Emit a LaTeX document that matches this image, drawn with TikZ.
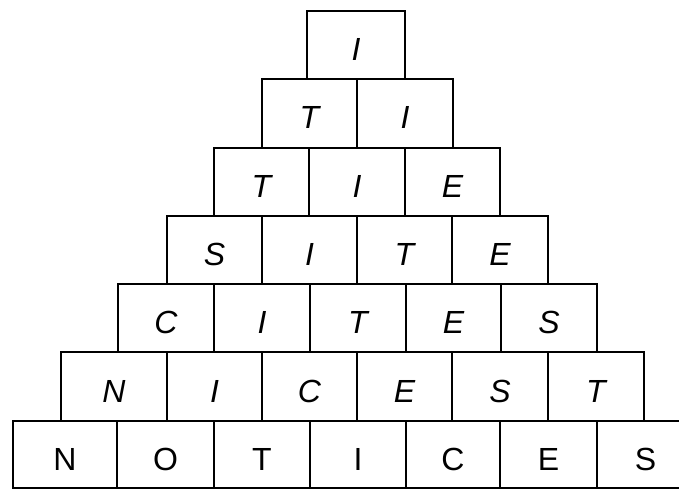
\documentclass[tikz,border=0pt]{standalone}
\usepackage{fontspec}
\setmainfont{Liberation Sans}
\tikzset{
  cellbox/.style={draw=black, line width=2.6pt, inner sep=0pt, text height=31pt, text depth=0pt,
    font=\fontsize{32}{36}\selectfont\itshape},
  basebox/.style={cellbox, font=\fontsize{32}{36}\selectfont\upshape}
}
\newcommand\pyrcell[7]{\node[#7, minimum width={#3pt-#2pt}, minimum height={#5pt-#4pt}] (#1) at ({(#2+#3)/2},{(#4+#5)/2}) {#6};}
\begin{document}
\begin{tikzpicture}[x=1pt,y=-1pt]
\useasboundingbox (0,0) rectangle (679,489);
\clip (0,0) rectangle (679,489);
% row 0
\pyrcell{a1}{307}{405}{11}{79}{I}{cellbox}
% row 1
\pyrcell{b1}{262}{357}{79}{148}{T}{cellbox}
\pyrcell{b2}{357}{453}{79}{148}{I}{cellbox}
% row 2
\pyrcell{c1}{214}{309}{148}{216}{T}{cellbox}
\pyrcell{c2}{309}{405}{148}{216}{I}{cellbox}
\pyrcell{c3}{405}{500}{148}{216}{E}{cellbox}
% row 3
\pyrcell{d1}{167}{262}{216}{284}{S}{cellbox}
\pyrcell{d2}{262}{357}{216}{284}{I}{cellbox}
\pyrcell{d3}{357}{452}{216}{284}{T}{cellbox}
\pyrcell{d4}{452}{548}{216}{284}{E}{cellbox}
% row 4
\pyrcell{e1}{118}{214}{284}{352}{C}{cellbox}
\pyrcell{e2}{214}{310}{284}{352}{I}{cellbox}
\pyrcell{e3}{310}{406}{284}{352}{T}{cellbox}
\pyrcell{e4}{406}{501}{284}{352}{E}{cellbox}
\pyrcell{e5}{501}{597}{284}{352}{S}{cellbox}
% row 5
\pyrcell{f1}{61}{167}{352}{421}{N}{cellbox}
\pyrcell{f2}{167}{262}{352}{421}{I}{cellbox}
\pyrcell{f3}{262}{357}{352}{421}{C}{cellbox}
\pyrcell{f4}{357}{452}{352}{421}{E}{cellbox}
\pyrcell{f5}{452}{548}{352}{421}{S}{cellbox}
\pyrcell{f6}{548}{644}{352}{421}{T}{cellbox}
% row 6
\pyrcell{g1}{13}{117}{421}{488}{N}{basebox}
\pyrcell{g2}{117}{214}{421}{488}{O}{basebox}
\pyrcell{g3}{214}{310}{421}{488}{T}{basebox}
\pyrcell{g4}{310}{406}{421}{488}{I}{basebox}
\pyrcell{g5}{406}{500}{421}{488}{C}{basebox}
\pyrcell{g6}{500}{597}{421}{488}{E}{basebox}
\pyrcell{g7}{597}{694}{421}{488}{S}{basebox}
\end{tikzpicture}
\end{document}
